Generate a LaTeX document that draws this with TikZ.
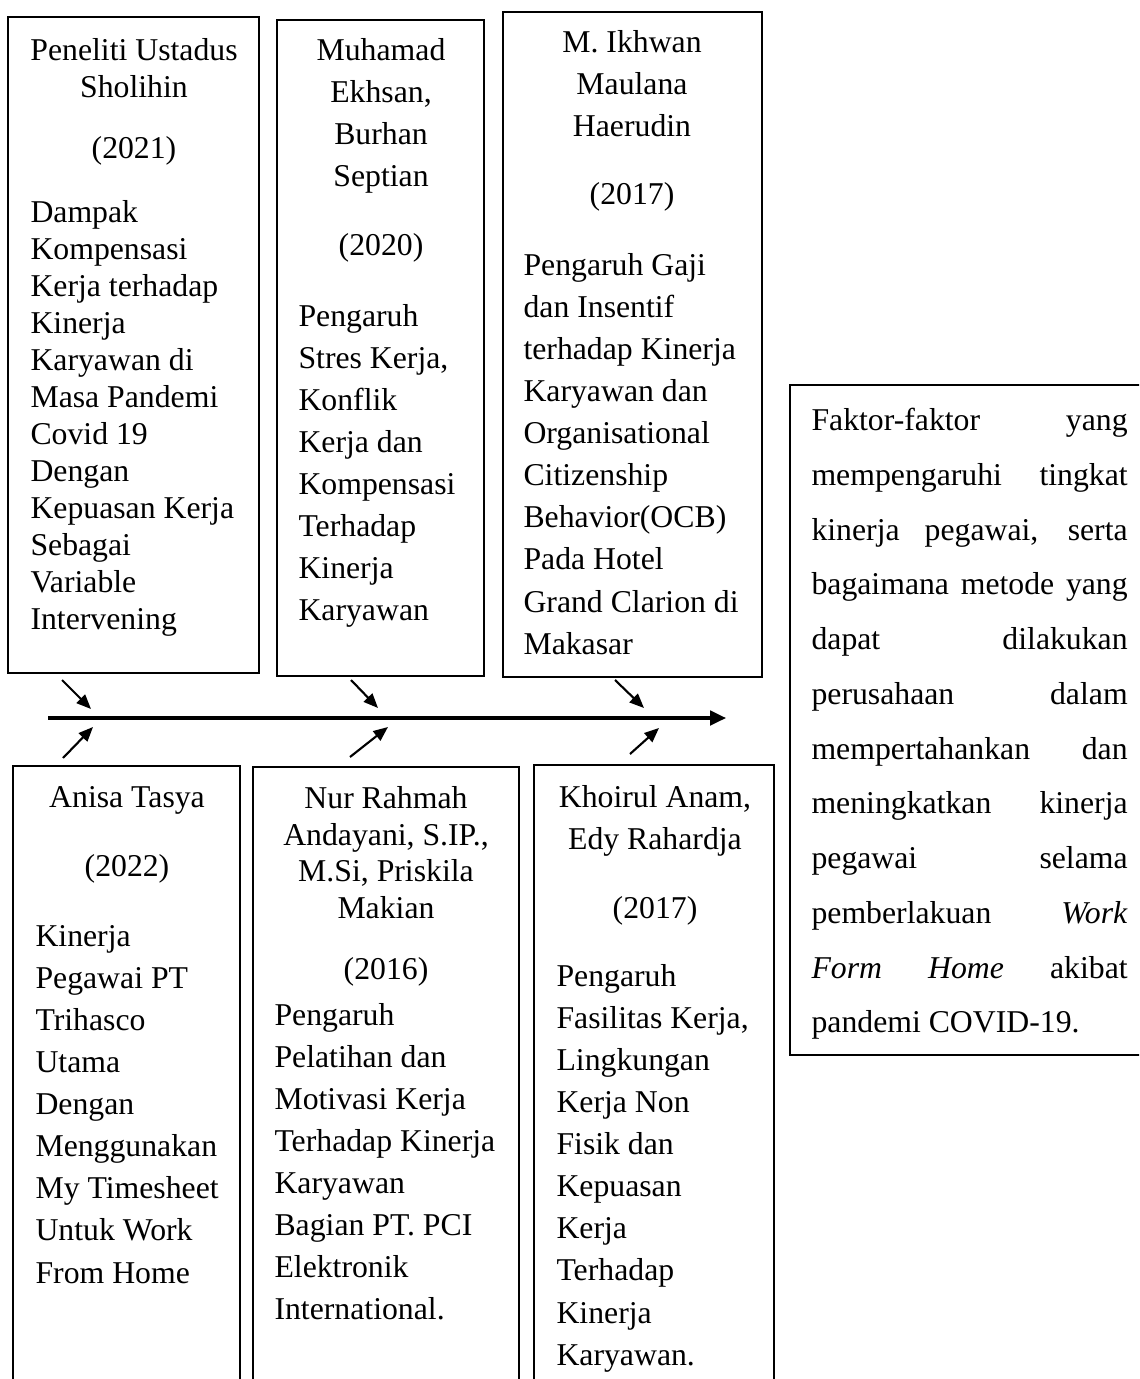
\documentclass[tikz,border=0pt]{standalone}
\usepackage{fontspec}
\setmainfont{Liberation Serif}
\usetikzlibrary{arrows.meta,fit}
\tikzset{
	frame/.style={draw, line width=0.7pt, inner sep=0pt},
	head/.style={anchor=north, align=center, inner sep=0pt, yshift=0.7*#1, font=\fontsize{12}{#1}\selectfont},
	body/.style={anchor=north west, align=left, inner sep=0pt, yshift=0.7*#1, font=\fontsize{12}{#1}\selectfont},
	cause/.style={-{Triangle[length=5.5pt,width=4.5pt]}, line width=0.8pt},
	spine/.style={-{Triangle[length=6pt,width=5.5pt]}, line width=1.2pt}
}
\newcommand{\jline}[1]{\makebox[119.5pt][s]{#1}}
\begin{document}
\begin{tikzpicture}[x=0.378pt,y=-0.378pt]
			\path[use as bounding box, clip] (0,0) rectangle (1139,1379);
			% boxes above the line
			\node	(a) [frame, fit={(8,17) (259,673)}] {};
			\node	(b) [frame, fit={(277,20) (484,676)}] {};
			\node	(c) [frame, fit={(503,12) (762,677)}] {};
			% boxes below the line
			\node	(d) [frame, fit={(13,766) (240,1420)}] {};
			\node	(e) [frame, fit={(253,767) (519,1420)}] {};
			\node	(f) [frame, fit={(534,765) (774,1420)}] {};
			% result
			\node	(g) [frame, fit={(790,385) (1150,1055)}] {};
			\node	(a1) at (134,60) [head=14pt] {\strut Peneliti Ustadus\\Sholihin\\[9.1pt](2021)};
			\node	(a2) at (30,222) [body=14pt] {\strut Dampak\\Kompensasi\\Kerja terhadap\\Kinerja\\Karyawan di\\Masa Pandemi\\Covid 19\\Dengan\\Kepuasan Kerja\\Sebagai\\Variable\\Intervening};
			\node	(b1) at (381,60) [head=15.9pt] {\strut Muhamad\\Ekhsan,\\Burhan\\Septian\\[10.2pt](2020)};
			\node	(b2) at (298,326) [body=15.9pt] {\strut Pengaruh\\Stres Kerja,\\Konflik\\Kerja dan\\Kompensasi\\Terhadap\\Kinerja\\Karyawan};
			\node	(c1) at (632,52) [head=15.9pt] {\strut M. Ikhwan\\Maulana\\Haerudin\\[9.8pt](2017)};
			\node	(c2) at (523,275) [body=15.9pt] {\strut Pengaruh Gaji\\dan Insentif\\terhadap Kinerja\\Karyawan dan\\Organisational\\Citizenship\\Behavior(OCB)\\Pada Hotel\\Grand Clarion di\\Makasar};
			\node	(d1) at (127,807) [head=15.9pt] {\strut Anisa Tasya\\[10.2pt](2022)};
			\node	(d2) at (35,946) [body=15.9pt] {\strut Kinerja\\Pegawai PT\\Trihasco\\Utama\\Dengan\\Menggunakan\\My Timesheet\\Untuk Work\\From Home};
			\node	(e1) at (386,808) [head=13.8pt] {\strut Nur Rahmah\\Andayani, S.IP.,\\M.Si, Priskila\\Makian\\[9.3pt](2016)};
			\node	(e2) at (274,1025) [body=15.9pt] {\strut Pengaruh\\Pelatihan dan\\Motivasi Kerja\\Terhadap Kinerja\\Karyawan\\Bagian PT. PCI\\Elektronik\\International.};
			\node	(f1) at (655,807) [head=15.9pt] {\strut Khoirul Anam,\\Edy Rahardja\\[10.2pt](2017)};
			\node	(f2) at (556,986) [body=15.9pt] {\strut Pengaruh\\Fasilitas Kerja,\\Lingkungan\\Kerja Non\\Fisik dan\\Kepuasan\\Kerja\\Terhadap\\Kinerja\\Karyawan.};
			\node	(g1) at (811,430) [body=20.7pt] {\strut\jline{Faktor-faktor yang}\\\jline{mempengaruhi tingkat}\\\jline{kinerja pegawai, serta}\\\jline{bagaimana metode yang}\\\jline{dapat dilakukan}\\\jline{perusahaan dalam}\\\jline{mempertahankan dan}\\\jline{meningkatkan kinerja}\\\jline{pegawai selama}\\\jline{pemberlakuan \textit{Work}}\\\jline{\textit{Form} \textit{Home} akibat}\\pandemi COVID-19.};
			% arrows
			\coordinate (s) at (48,718);
			\coordinate (t) at (726,718);
			\coordinate (p1) at (62,680);
			\coordinate (q1) at (91,709);
			\coordinate (p2) at (351,680);
			\coordinate (q2) at (378,708);
			\coordinate (p3) at (615,680);
			\coordinate (q3) at (644,708);
			\coordinate (p4) at (63,758);
			\coordinate (q4) at (93,727);
			\coordinate (p5) at (350,757);
			\coordinate (q5) at (388,727);
			\coordinate (p6) at (630,754);
			\coordinate (q6) at (659,728);
			\draw[spine] (s) -- (t);
			\draw 
			(p1) edge[cause] (q1)
			(p2) edge[cause] (q2)
			(p3) edge[cause] (q3)
			(p4) edge[cause] (q4)
			(p5) edge[cause] (q5)
			(p6) edge[cause] (q6)
			;
\end{tikzpicture}
\end{document}
